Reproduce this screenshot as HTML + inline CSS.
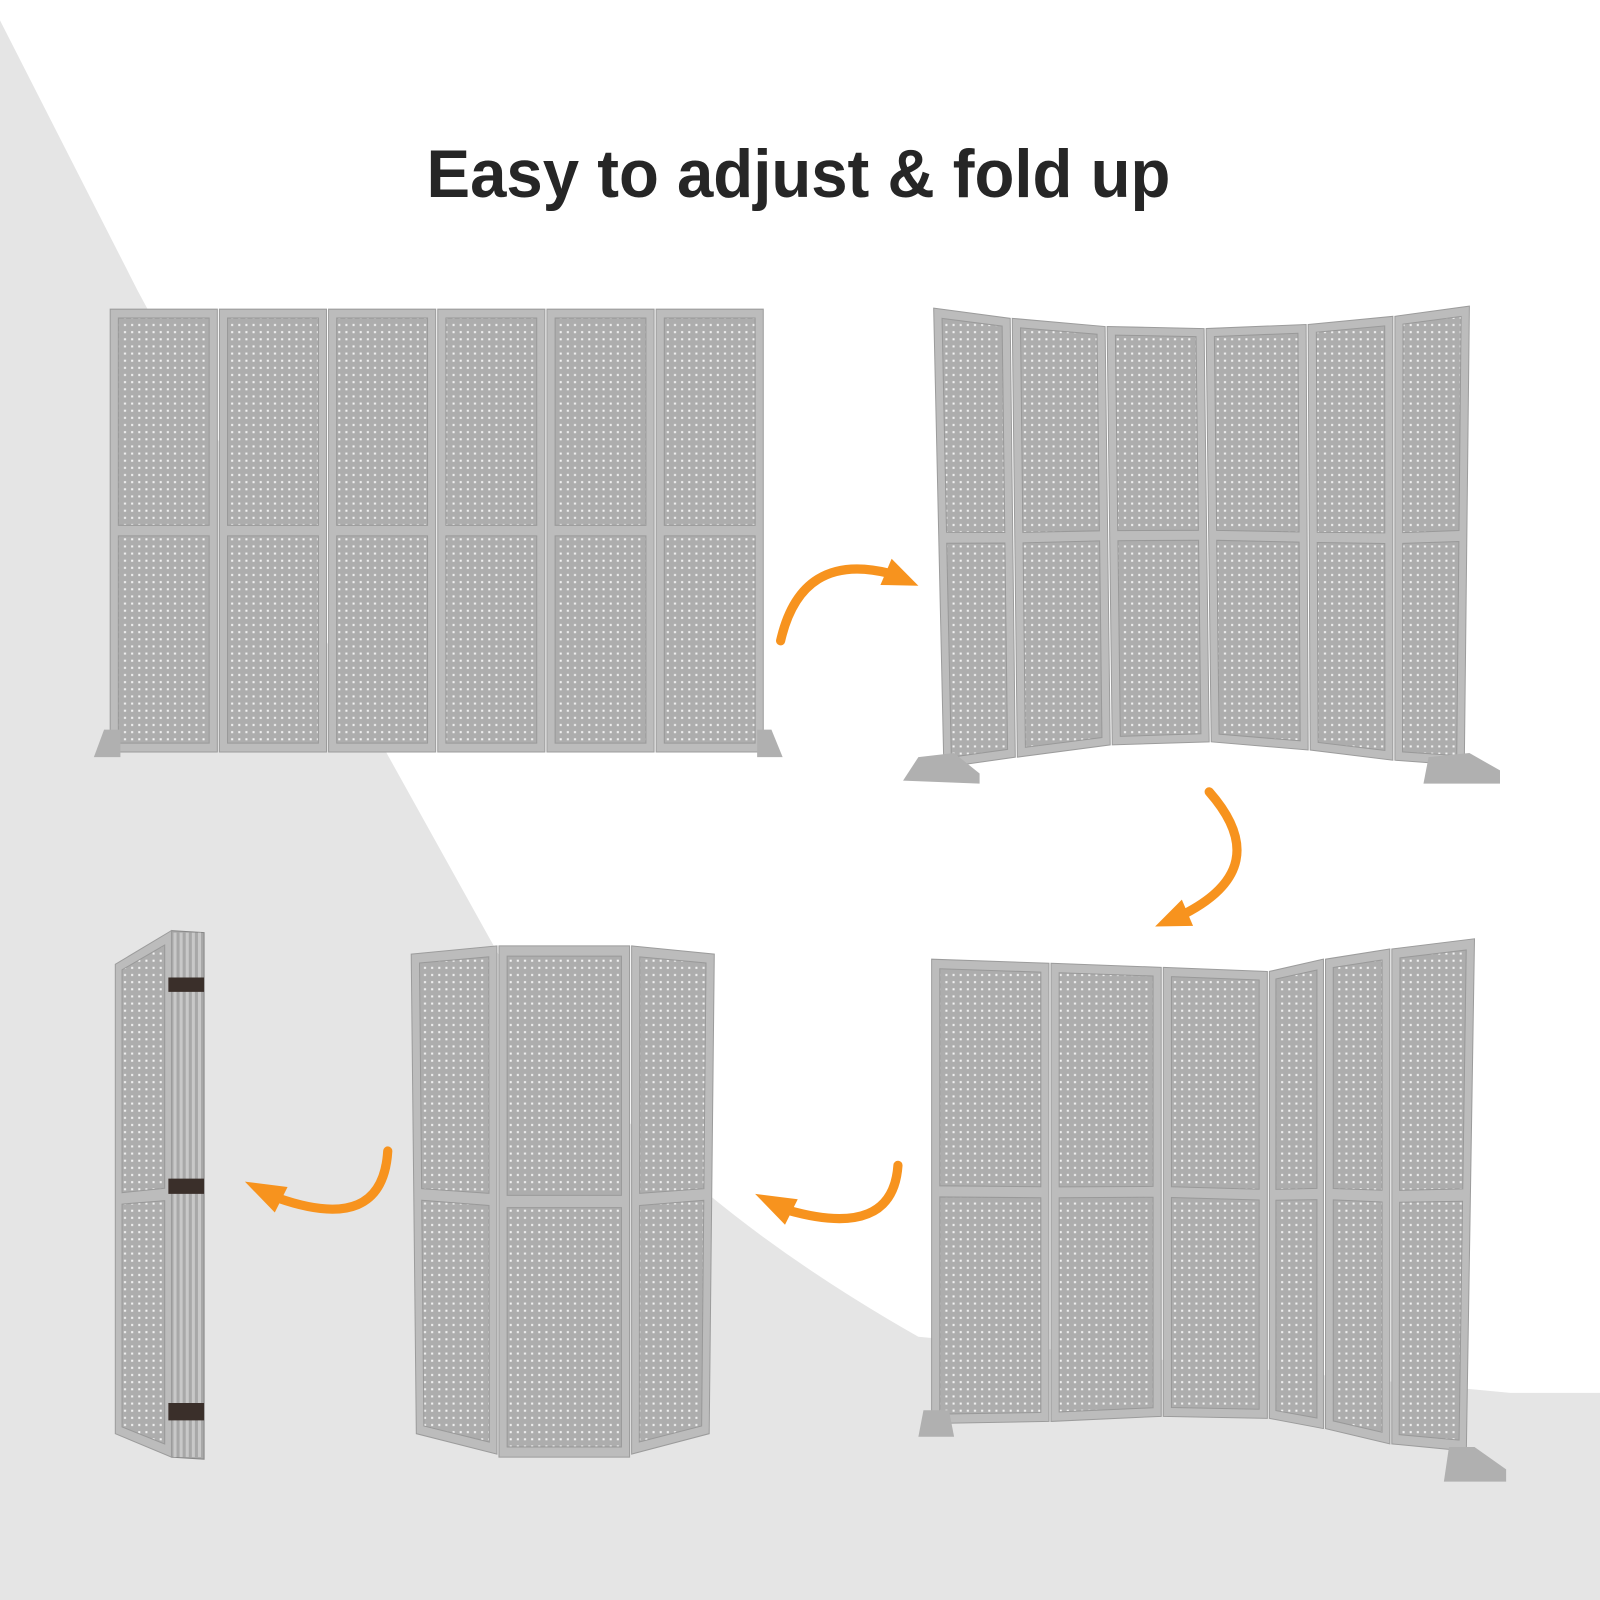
<!DOCTYPE html>
<html><head><meta charset="utf-8"><style>
html,body{margin:0;padding:0;background:#fff;width:1600px;height:1600px;overflow:hidden}
svg{display:block}
</style></head><body>
<svg id="s" width="1600" height="1600" viewBox="0 0 1568 1568" xmlns="http://www.w3.org/2000/svg">
<defs>
<pattern id="dots" width="7" height="7" patternUnits="userSpaceOnUse">
<rect width="7" height="7" fill="#adadad"/><rect x="2.5" y="2.5" width="2" height="2" fill="#f4f4f4"/>
</pattern>
</defs>
<rect width="1568" height="1568" fill="#fff"/>
<path d="M0,20 L135,285 L380,740 L480,920 Q600,1140 900,1310 L1480,1365 L1568,1365 L1568,1568 L0,1568 Z" fill="#e5e5e5"/>
<text x="418" y="193" textLength="729" lengthAdjust="spacingAndGlyphs" font-family="Liberation Sans, sans-serif" font-weight="bold" font-size="66" fill="#262626">Easy to adjust &amp; fold up</text>
<g id="g"></g>
</svg>
<script>
var g=document.getElementById('g'),h='';
function L(a,b,t){return [a[0]+(b[0]-a[0])*t,a[1]+(b[1]-a[1])*t]}
function P(tl,tr,br,bl,u,v){return L(L(tl,tr,u),L(bl,br,u),v)}
function poly(pts,f,s){return '<polygon points="'+pts.map(p=>p[0].toFixed(1)+','+p[1].toFixed(1)).join(' ')+'" fill="'+f+'"'+(s?' stroke="'+s+'" stroke-width="1"':'')+'/>'}
function pane(tl,tr,br,bl,u0,u1,v0,v1){return poly([P(tl,tr,br,bl,u0,v0),P(tl,tr,br,bl,u1,v0),P(tl,tr,br,bl,u1,v1),P(tl,tr,br,bl,u0,v1)],'url(#dots)','#999')}
function panel(tl,tr,br,bl,sp){sp=sp||0.5;var w=Math.abs(tr[0]-tl[0]);var mu=Math.min(0.12,8/w);
h+=poly([tl,tr,br,bl],'#bcbcbc','#9c9c9c');
h+=pane(tl,tr,br,bl,mu,1-mu,0.02,sp-0.012);h+=pane(tl,tr,br,bl,mu,1-mu,sp+0.012,0.98);}
var xs=[108,215,322,429,536,643,750];
for(var i=0;i<6;i++)panel([xs[i],303],[xs[i+1]-2,303],[xs[i+1]-2,737],[xs[i],737]);
h+=poly([[102,715],[118,715],[118,742],[92,742]],'#b0b0b0');
h+=poly([[742,715],[756,715],[767,742],[742,742]],'#b0b0b0');
var tops=[[915,302],[990,312],[1083,320],[1180,322],[1280,318],[1365,310],[1440,300]];
var bots=[[925,752],[995,742],[1088,730],[1185,727],[1282,735],[1365,745],[1435,750]];
for(i=0;i<6;i++)panel([tops[i][0]+(i?2:0),tops[i][1]],tops[i+1],bots[i+1],[bots[i][0]+(i?2:0),bots[i][1]],0.5);
h+=poly([[900,742],[935,738],[960,758],[960,768],[885,765]],'#b0b0b0');
h+=poly([[1400,742],[1440,738],[1470,755],[1470,768],[1395,768]],'#b0b0b0');
var t3=[[913,940],[1028,944],[1138,948],[1242,952],[1297,940],[1362,930],[1445,920]];
var b3=[[913,1395],[1028,1393],[1138,1388],[1242,1390],[1297,1400],[1362,1415],[1437,1422]];
for(i=0;i<6;i++)panel([t3[i][0]+(i?2:0),t3[i][1]],t3[i+1],b3[i+1],[b3[i][0]+(i?2:0),b3[i][1]],0.5);
h+=poly([[905,1382],[930,1382],[935,1408],[900,1408]],'#b0b0b0');
h+=poly([[1420,1418],[1445,1418],[1476,1440],[1476,1452],[1415,1452]],'#b0b0b0');
panel([403,935],[487,927],[487,1425],[408,1405],0.5);
panel([489,927],[617,927],[617,1428],[489,1428],0.5);
panel([619,927],[700,935],[695,1405],[619,1425],0.5);
h+=poly([[168,912],[200,914],[200,1430],[168,1428]],'#a8a8a8','#888');
for(var k=0;k<5;k++)h+=poly([[170+k*6,914],[173+k*6,914],[173+k*6,1428],[170+k*6,1428]],'#c8c8c8');
panel([113,945],[168,912],[168,1428],[113,1405],0.5);
[[958,972],[1155,1170],[1375,1392]].forEach(function(y){h+=poly([[165,y[0]],[200,y[0]],[200,y[1]],[165,y[1]]],'#3a2f2a');});
function arrow(x0,y0,cx,cy,x1,y1,hx,hy){
h+='<path d="M'+x0+','+y0+' Q'+cx+','+cy+' '+x1+','+y1+'" fill="none" stroke="#f7931e" stroke-width="9" stroke-linecap="round"/>';
var dx=hx-x1,dy=hy-y1,l=Math.hypot(dx,dy);dx/=l;dy/=l;var px=-dy,py=dx;
h+=poly([[hx,hy],[x1-dx*4+px*14,y1-dy*4+py*14],[x1-dx*4-px*14,y1-dy*4-py*14]],'#f7931e');}
arrow(765,628,785,540,872,562,900,574);
arrow(1185,776,1250,850,1160,896,1132,908);
arrow(880,1142,875,1215,772,1186,740,1170);
arrow(380,1128,375,1210,272,1174,240,1158);
g.innerHTML=h;
</script>
</body></html>
